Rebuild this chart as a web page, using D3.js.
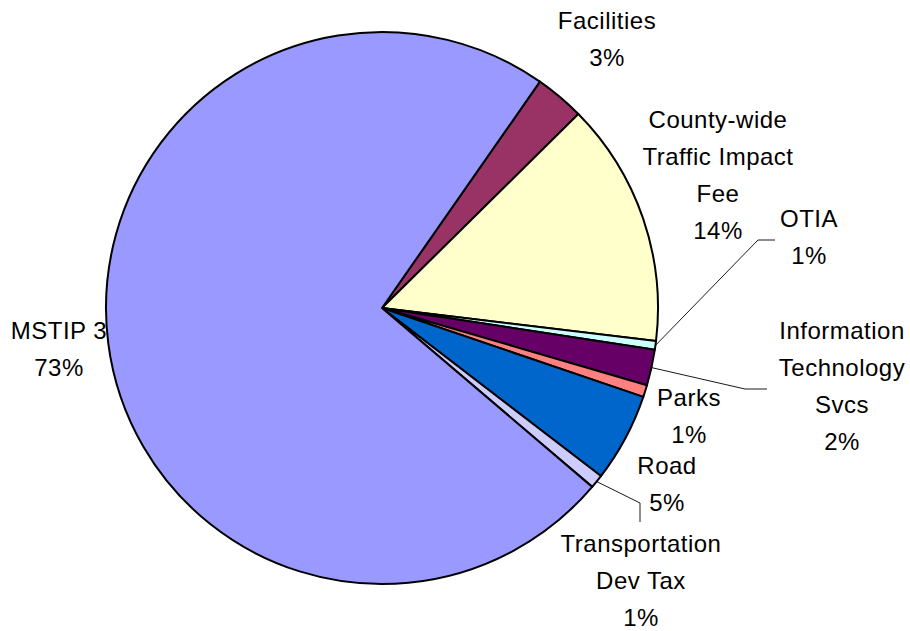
<!DOCTYPE html>
<html>
<head>
<meta charset="utf-8">
<script src="https://cdn.jsdelivr.net/npm/d3@7"></script>
<style>
  html, body { margin: 0; padding: 0; background: #fff; }
  svg { display: block; }
  text { font-family: "Liberation Sans", Arial, sans-serif; font-size: 24px; fill: #000; letter-spacing: 0.5px; }
</style>
</head>
<body>
<svg id="chart" width="910" height="631"></svg>
<script>
// Capital funding sources, share of total (%)
const categories = ["Facilities", "County-wide Traffic Impact Fee", "OTIA",
  "Information Technology Svcs", "Parks", "Road", "Transportation Dev Tax", "MSTIP 3"];
const values = [2.9, 14.3, 0.5, 2.1, 0.7, 5.2, 0.8, 73.4];
const labelLines = [["Facilities"], ["County-wide", "Traffic Impact", "Fee"], ["OTIA"],
  ["Information", "Technology", "Svcs"], ["Parks"], ["Road"], ["Transportation", "Dev Tax"], ["MSTIP 3"]];
const colors = ["#993366", "#FFFFCC", "#CCFFFF", "#660066", "#FF8080", "#0066CC", "#CCCCFF", "#9999FF"];

// Label placement: centre x and first baseline y of each label block
const labelPos = [[607, 29], [718, 128], [809, 227], [842, 339], [689, 406], [667, 474], [641, 552], [59, 339]];
// Leader lines for the thin slices: elbow and end points
const leaders = { 2: [[758, 240], [775, 240]], 3: [[745, 389], [767, 389]], 6: [[640, 503], [640, 522]] };

const cx = 382, cy = 308, r = 276, lineH = 37;
const svg = d3.select("#chart");
const total = d3.sum(values);

const start = 34.9 * Math.PI / 180;
const pie = d3.pie().sort(null).value(d => d).startAngle(start).endAngle(start + 2 * Math.PI);
const arcs = pie(values);
const arc = d3.arc().innerRadius(0).outerRadius(r);

const g = svg.append("g").attr("transform", `translate(${cx},${cy})`);
g.selectAll("path.slice").data(arcs).join("path")
  .attr("class", "slice")
  .attr("d", arc)
  .attr("fill", (d, i) => colors[i])
  .attr("stroke", "#000")
  .attr("stroke-width", 2)
  .attr("stroke-linejoin", "round");

// Leader lines from the slice rim to the label
Object.entries(leaders).forEach(([k, pts]) => {
  const a = arcs[+k];
  const mid = (a.startAngle + a.endAngle) / 2;
  const p0 = [cx + r * Math.sin(mid), cy - r * Math.cos(mid)];
  svg.append("path")
    .attr("d", d3.line()([p0, ...pts]))
    .attr("fill", "none")
    .attr("stroke", "#000")
    .attr("stroke-width", 0.9);
});

// Labels: name lines followed by rounded percentage
const labels = svg.append("g");
categories.forEach((c, i) => {
  const lines = labelLines[i].concat([Math.round(values[i] / total * 100) + "%"]);
  const t = labels.append("text").attr("text-anchor", "middle");
  lines.forEach((s, j) => {
    t.append("tspan").attr("x", labelPos[i][0]).attr("y", labelPos[i][1] + j * lineH).text(s);
  });
});
</script>
</body>
</html>
